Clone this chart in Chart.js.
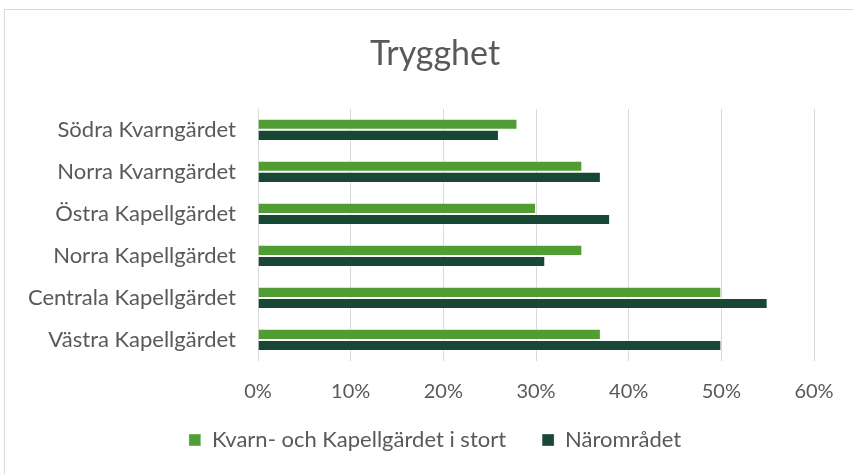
<!DOCTYPE html>
<html lang="sv">
<head>
<meta charset="utf-8">
<script src="https://cdn.jsdelivr.net/npm/chart.js@4"></script>
<style>
    html, body { margin: 0; padding: 0; background: #fff; overflow: hidden; }
    #frame {
        position: absolute; left: 4px; top: 9px; width: 880px; height: 500px;
        border: 1px solid #d9d9d9; box-sizing: border-box;
    }
    #wrap { position: absolute; left: 0; top: 0; width: 853px; height: 474px; }
</style>
</head>
<body>
<div id="frame"></div>
<div id="wrap"><canvas id="tryggChart" width="853" height="474"></canvas></div>
<script>
// Data läst från bilden
const kategorier = [
    'Södra Kvarngärdet',
    'Norra Kvarngärdet',
    'Östra Kapellgärdet',
    'Norra Kapellgärdet',
    'Centrala Kapellgärdet',
    'Västra Kapellgärdet'
];
const helaOmradet = [0.28, 0.35, 0.30, 0.35, 0.50, 0.37];
const naromradet = [0.26, 0.37, 0.38, 0.31, 0.55, 0.50];
const serieNamn = ['Kvarn- och Kapellgärdet i stort', 'Närområdet'];
const axelTicks = [0, 0.1, 0.2, 0.3, 0.4, 0.5, 0.6];

const textFarg = '#595959';
const fontFamily = 'Lato, "Open Sans", sans-serif';

// Etiketterna får gå utanför axelns ruta (annars klipps de vid layout-paddingen)
const ingenKlippning = {
    id: 'ingenKlippning',
    afterLayout(chart) {
        chart.scales.y.left = 0;
        chart.scales.x.bottom = chart.height;
    }
};

const ctx = document.getElementById('tryggChart').getContext('2d');
new Chart(ctx, {
    type: 'bar',
    data: {
        labels: kategorier,
        datasets: [{
            label: serieNamn[0],
            data: helaOmradet,
            backgroundColor: '#509e33',
            borderColor: 'rgba(255,255,255,0.45)',
            borderWidth: 1,
            categoryPercentage: 0.53,
            barPercentage: 1.0
        }, {
            label: serieNamn[1],
            data: naromradet,
            backgroundColor: '#184736',
            borderColor: 'rgba(255,255,255,0.35)',
            borderWidth: 1,
            categoryPercentage: 0.53,
            barPercentage: 1.0
        }]
    },
    plugins: [ingenKlippning],
    options: {
        indexAxis: 'y',
        responsive: false,
        animation: false,
        // vänster/höger-padding så att titel och legend centreras som i originalet
        layout: { padding: { left: 56, right: 39, top: 0, bottom: 13 } },
        scales: {
            x: {
                min: axelTicks[0],
                max: axelTicks[axelTicks.length - 1],
                afterBuildTicks: axis => { axis.ticks = axelTicks.map(v => ({ value: v })); },
                afterFit: axis => { axis.height = 32; },
                grid: { color: '#d9d9d9', lineWidth: 1, drawTicks: false },
                border: { display: false },
                ticks: {
                    padding: 19,
                    color: textFarg,
                    font: { family: fontFamily, size: 20 },
                    callback: v => Math.round(v * 100) + '%'
                }
            },
            y: {
                afterFit: axis => { axis.width = 202; },
                grid: { display: false, drawTicks: false },
                border: { display: false },
                ticks: {
                    padding: 22,
                    color: textFarg,
                    font: { family: fontFamily, size: 22 }
                }
            }
        },
        plugins: {
            title: {
                display: true,
                text: 'Trygghet',
                color: textFarg,
                font: { family: fontFamily, size: 34, weight: 'normal' },
                padding: { top: 34, bottom: 34 }
            },
            legend: {
                position: 'bottom',
                labels: {
                    color: textFarg,
                    font: { family: fontFamily, size: 22 },
                    boxWidth: 12,
                    boxHeight: 12,
                    padding: 36
                }
            },
            tooltip: { enabled: false }
        }
    }
});
</script>
</body>
</html>
